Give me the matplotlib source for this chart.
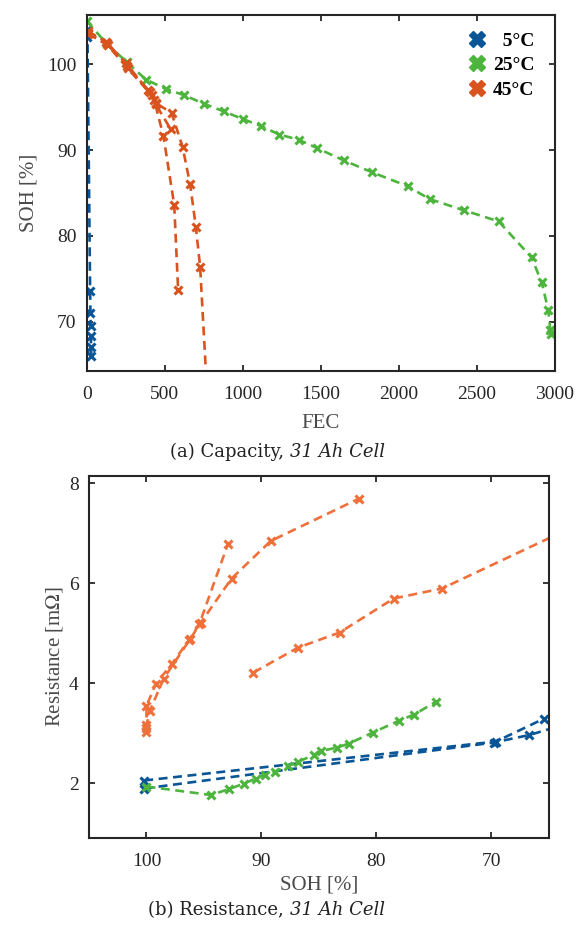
import matplotlib
matplotlib.use('Agg')
import matplotlib.pyplot as plt
from matplotlib.lines import Line2D

# ---------------- Data: (a) Capacity ----------------
fec_5 = [2, 4, 21, 23, 25, 26, 27, 28]
soh_5 = [104.0, 103.2, 73.6, 71.0, 69.5, 68.4, 67.1, 66.0]

fec_25 = [0, 130, 258, 378, 506, 620, 748, 876, 1000, 1115, 1233, 1357, 1478,
          1645, 1829, 2055, 2196, 2414, 2639, 2850, 2915, 2957, 2970, 2972]
soh_25 = [105.0, 102.3, 100.2, 98.2, 97.1, 96.4, 95.4, 94.5, 93.6, 92.8, 91.8,
          91.2, 90.2, 88.8, 87.4, 85.8, 84.3, 83.0, 81.7, 77.5, 74.6, 71.4, 69.1, 68.6]

fec_45a = [8, 122, 250, 389, 432, 491, 560, 585]
soh_45a = [103.8, 102.6, 100.1, 97.0, 95.8, 91.6, 83.6, 73.7]
fec_45b = [8, 133, 261, 415, 442, 538]
soh_45b = [103.5, 102.2, 99.5, 96.4, 95.3, 92.4]
fec_45c = [10, 128, 255, 405, 440, 543, 613, 662, 699, 726, 782]
soh_45c = [103.6, 102.4, 99.8, 96.7, 95.5, 94.3, 90.4, 86.0, 81.0, 76.4, 58.0]

# ---------------- Data: (b) Resistance ----------------
soh_r5a = [100.2, 69.6, 65.4]
r_5a = [2.05, 2.83, 3.29]
soh_r5b = [100.2, 69.8, 66.7, 60.0]
r_5b = [1.89, 2.81, 2.96, 3.42]

soh_r25 = [100.0, 94.4, 92.8, 91.5, 90.5, 89.7, 88.8, 87.7, 86.8, 85.4, 84.8,
           83.4, 82.4, 80.3, 78.0, 76.7, 74.8]
r_25 = [1.93, 1.76, 1.88, 1.99, 2.09, 2.17, 2.23, 2.34, 2.43, 2.56, 2.64,
        2.71, 2.79, 3.01, 3.25, 3.37, 3.63]

soh_r45a = [100.0, 100.0, 99.2, 97.8, 96.3, 95.4, 92.9]
r_45a = [3.02, 3.54, 3.98, 4.38, 4.86, 5.18, 6.79]
soh_r45b = [100.0, 100.0, 99.7, 98.5, 96.2, 95.3, 92.6, 89.2, 81.5]
r_45b = [3.10, 3.16, 3.45, 4.09, 4.88, 5.20, 6.09, 6.84, 7.69]
soh_r45c = [90.7, 86.8, 83.2, 78.5, 74.3, 62.0]
r_45c = [4.21, 4.71, 5.01, 5.69, 5.89, 7.22]

legend_labels = ['  5°C', '25°C', '45°C']
x_ticks_a = [0, 500, 1000, 1500, 2000, 2500, 3000]
y_ticks_a = [70, 80, 90, 100]
x_ticks_b = [100, 90, 80, 70]
y_ticks_b = [2, 4, 6, 8]

# ---------------- Style ----------------
BLUE = '#0A5596'
GREEN = '#4DB43E'
ORANGE_A = '#D9531E'
ORANGE_B = '#F0703C'
SPINE = '#262626'
TICKC = '#262626'
LABC = '#4a4a4a'
SERIF = ['Liberation Serif', 'DejaVu Serif']

plt.rcParams['font.family'] = SERIF
plt.rcParams['mathtext.fontset'] = 'stix'

DASH = (0, (3.4, 2.1))
LW = 1.9
MK = dict(marker='x', markersize=6, markeredgewidth=2.2)

fig = plt.figure(figsize=(5.79, 9.27), dpi=100)
ax1 = fig.add_axes([0.150, 0.5998, 0.8085, 0.3840])
ax2 = fig.add_axes([0.1537, 0.0960, 0.7943, 0.3905])


def style(ax):
    for s in ax.spines.values():
        s.set_linewidth(1.5)
        s.set_color(SPINE)
    ax.tick_params(direction='in', length=4, width=1.3, top=True, right=True,
                   labelsize=14, colors=SPINE, labelcolor=TICKC)
    ax.tick_params(axis='x', pad=11)
    ax.tick_params(axis='y', pad=7.5)


def series(ax, x, y, c):
    ax.plot(x, y, color=c, linestyle=DASH, linewidth=LW, **MK)


# (a)
series(ax1, fec_5, soh_5, BLUE)
series(ax1, fec_25, soh_25, GREEN)
series(ax1, fec_45a, soh_45a, ORANGE_A)
series(ax1, fec_45b, soh_45b, ORANGE_A)
series(ax1, fec_45c, soh_45c, ORANGE_A)
ax1.set_xlim(0, 3000)
ax1.set_ylim(64.3, 105.7)
ax1.set_xticks(x_ticks_a)
ax1.set_yticks(y_ticks_a)
style(ax1)
ax1.set_xlabel('FEC', fontsize=15, color=LABC, labelpad=8)
ax1.set_ylabel('SOH [%]', fontsize=15, color=LABC, labelpad=6)

handles = [Line2D([], [], color=c, marker='X', markersize=11, linestyle='none')
           for c in (BLUE, GREEN, ORANGE_A)]
leg = ax1.legend(handles, legend_labels, loc='upper right', frameon=False,
                 prop={'weight': 'bold', 'size': 14}, handlelength=1.0,
                 handletextpad=0.3, labelspacing=0.35, borderaxespad=0.3,
                 bbox_to_anchor=(0.985, 0.99))

# (b)
series(ax2, soh_r5a, r_5a, BLUE)
series(ax2, soh_r5b, r_5b, BLUE)
series(ax2, soh_r25, r_25, GREEN)
series(ax2, soh_r45a, r_45a, ORANGE_B)
series(ax2, soh_r45b, r_45b, ORANGE_B)
series(ax2, soh_r45c, r_45c, ORANGE_B)
ax2.set_xlim(105, 65)
ax2.set_ylim(0.9, 8.14)
ax2.set_xticks(x_ticks_b)
ax2.set_yticks(y_ticks_b)
style(ax2)
ax2.set_xlabel('SOH [%]', fontsize=15, color=LABC, labelpad=4)
ax2.set_ylabel(r'Resistance [m$\Omega$]', fontsize=15, color=LABC, labelpad=3)

# captions
CAPF = ['DejaVu Serif']
CS = 13
fig.text(0.50, 1 - 452 / 927, '(a) Capacity, ', ha='right', va='center', fontsize=CS,
         family=CAPF, color='#222222')
fig.text(0.50, 1 - 452 / 927, '31 Ah Cell', ha='left', va='center', fontsize=CS,
         family=CAPF, style='italic', color='#222222')
fig.text(0.50, 1 - 910 / 927, '(b) Resistance, ', ha='right', va='center', fontsize=CS,
         family=CAPF, color='#222222')
fig.text(0.50, 1 - 910 / 927, '31 Ah Cell', ha='left', va='center', fontsize=CS,
         family=CAPF, style='italic', color='#222222')

fig.savefig('out.png', dpi=100)
